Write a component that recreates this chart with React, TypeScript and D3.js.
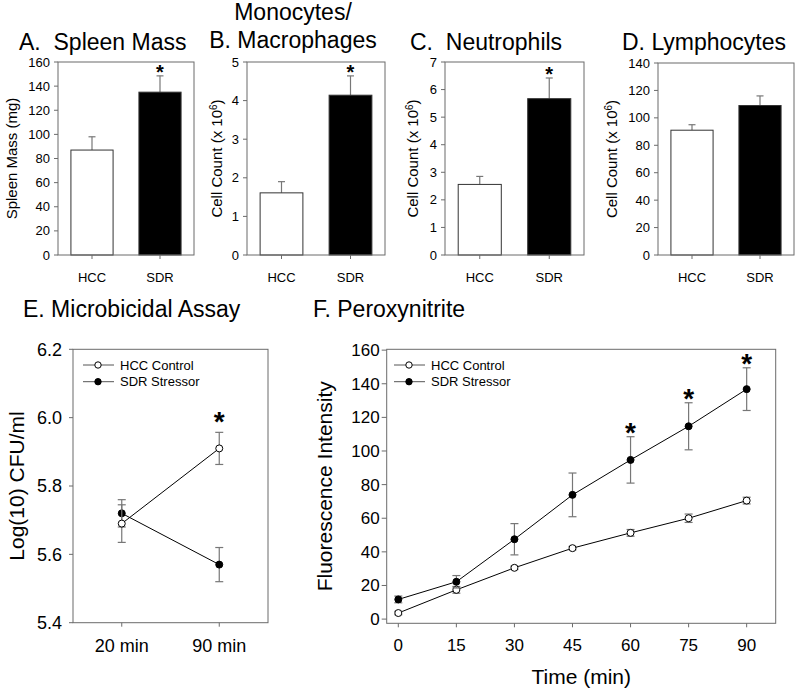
import React from "react";
import * as d3 from "d3";

// bar panels (A-D)
const groups = ["HCC", "SDR"];
const spleenMass = [87, 135];
const spleenErr = [11, 13.5];
const monocytes = [1.61, 4.14];
const monocyteErr = [0.29, 0.5];
const neutrophils = [2.56, 5.67];
const neutrophilErr = [0.29, 0.75];
const lymphocytes = [91, 109];
const lymphocyteErr = [4, 7];

// E. microbicidal assay
const assayTimes = ["20 min", "90 min"];
const hccCfu = [5.69, 5.91];
const hccCfuErr = [0.055, 0.047];
const sdrCfu = [5.72, 5.57];
const sdrCfuErr = [0.04, 0.05];
const cfuTicks = [5.4, 5.6, 5.8, 6.0, 6.2];

// F. peroxynitrite
const minutes = [0, 15, 30, 45, 60, 75, 90];
const hccFluor = [3.6, 17.4, 30.5, 42.2, 51.3, 60, 70.5];
const hccFluorErr = [1, 2, 1, 1, 2, 2.5, 2];
const sdrFluor = [11.7, 22.2, 47.5, 73.9, 94.7, 114.7, 136.8];
const sdrFluorErr = [2, 3.7, 9.3, 13, 13.8, 14, 12.7];
const fluorTicks = [0, 20, 40, 60, 80, 100, 120, 140, 160];
const sigMinutes = [60, 75, 90];

const FONT = "'Liberation Sans', Arial, sans-serif";
const FRAME = "#6b6b6b";
const ERR = "#777";

function BarPanel({ x0, x1, y0, y1, max, step, values, errs, sig, yLabel, labelX, sup }) {
  const x = d3.scalePoint().domain(groups).range([x0, x1]).padding(0.5);
  const y = d3.scaleLinear().domain([0, max]).range([y1, y0]);
  const bw = (x1 - x0) * 0.31;
  const ticks = d3.range(0, max + step / 2, step);
  const cy = (y0 + y1) / 2;
  return (
    <g>
      {groups.map((g, i) => (
        <g key={g}>
          <line x1={x(g)} x2={x(g)} y1={y(values[i] + errs[i])} y2={y(values[i])} stroke={ERR} strokeWidth={1.2} />
          <line x1={x(g) - 3.5} x2={x(g) + 3.5} y1={y(values[i] + errs[i])} y2={y(values[i] + errs[i])} stroke={ERR} strokeWidth={1.2} />
          <rect x={x(g) - bw / 2} y={y(values[i])} width={bw} height={y(0) - y(values[i])}
            fill={i === 0 ? "#fff" : "#000"} stroke="#333" strokeWidth={1} />
          {sig[i] && (
            <text x={x(g)} y={y(values[i] + errs[i]) + 3} textAnchor="middle" fontSize={20} fontWeight="bold" fontFamily={FONT}>*</text>
          )}
          <line x1={x(g)} x2={x(g)} y1={y1} y2={y1 + 4} stroke={FRAME} />
          <text x={x(g)} y={y1 + 27} textAnchor="middle" fontSize={13} fontFamily={FONT}>{g}</text>
        </g>
      ))}
      <rect x={x0} y={y0} width={x1 - x0} height={y1 - y0} fill="none" stroke={FRAME} strokeWidth={1} />
      {ticks.map((t) => (
        <g key={t}>
          <line x1={x0 - 4} x2={x0} y1={y(t)} y2={y(t)} stroke={FRAME} />
          <text x={x0 - 8} y={y(t)} dy="0.35em" textAnchor="end" fontSize={13} fontFamily={FONT}>{t}</text>
        </g>
      ))}
      <text transform={`translate(${labelX},${cy}) rotate(-90)`} dy="0.35em" textAnchor="middle" fontSize={15} fontFamily={FONT}>
        {yLabel}
        {sup && <tspan baselineShift="super" fontSize={10}>{sup}</tspan>}
        {sup && ")"}
      </text>
    </g>
  );
}

function Legend({ lx, ly }) {
  const rows = [
    { name: "HCC Control", fill: "#fff" },
    { name: "SDR Stressor", fill: "#000" },
  ];
  return (
    <g>
      {rows.map((r, i) => (
        <g key={r.name} transform={`translate(${lx},${ly + i * 16.7})`}>
          <line x1={0} x2={31} y1={0} y2={0} stroke="#555" />
          <circle cx={15} cy={0} r={3.2} fill={r.fill} stroke="#000" />
          <text x={37} y={0} dy="0.35em" fontSize={13} fontFamily={FONT}>{r.name}</text>
        </g>
      ))}
    </g>
  );
}

function AssayPanel() {
  const x0 = 73, x1 = 268, y0 = 349.3, y1 = 622.7;
  const x = d3.scalePoint().domain(assayTimes).range([x0, x1]).padding(0.5);
  const y = d3.scaleLinear().domain([5.4, 6.2]).range([y1, y0]);
  const line = d3.line<number>().x((_, i) => x(assayTimes[i])).y((v) => y(v));
  const series = [
    { vals: sdrCfu, errs: sdrCfuErr, fill: "#000" },
    { vals: hccCfu, errs: hccCfuErr, fill: "#fff" },
  ];
  return (
    <g>
      {series.map((s, k) => (
        <g key={k}>
          <path d={line(s.vals)} fill="none" stroke="#000" strokeWidth={1} />
          {s.vals.map((v, i) => {
            const px = x(assayTimes[i]);
            return (
              <g key={i}>
                <line x1={px} x2={px} y1={y(v - s.errs[i])} y2={y(v + s.errs[i])} stroke={ERR} strokeWidth={1.2} />
                <line x1={px - 4} x2={px + 4} y1={y(v - s.errs[i])} y2={y(v - s.errs[i])} stroke={ERR} strokeWidth={1.2} />
                <line x1={px - 4} x2={px + 4} y1={y(v + s.errs[i])} y2={y(v + s.errs[i])} stroke={ERR} strokeWidth={1.2} />
              </g>
            );
          })}
          {s.vals.map((v, i) => (
            <circle key={"c" + i} cx={x(assayTimes[i])} cy={y(v)} r={3.5} fill={s.fill} stroke="#000" />
          ))}
        </g>
      ))}
      <text x={x(assayTimes[1])} y={y(hccCfu[1] + hccCfuErr[1]) - 1} textAnchor="middle" fontSize={28} fontWeight="bold" fontFamily={FONT}>*</text>
      <rect x={x0} y={y0} width={x1 - x0} height={y1 - y0} fill="none" stroke={FRAME} />
      {cfuTicks.map((t) => (
        <g key={t}>
          <line x1={x0 - 4} x2={x0} y1={y(t)} y2={y(t)} stroke={FRAME} />
          <text x={x0 - 11} y={y(t)} dy="0.35em" textAnchor="end" fontSize={18} fontFamily={FONT}>{t.toFixed(1)}</text>
        </g>
      ))}
      {assayTimes.map((t) => (
        <g key={t}>
          <line x1={x(t)} x2={x(t)} y1={y1} y2={y1 + 4} stroke={FRAME} />
          <text x={x(t)} y={y1 + 29} textAnchor="middle" fontSize={18} fontFamily={FONT}>{t}</text>
        </g>
      ))}
      <text transform={`translate(17,${(y0 + y1) / 2}) rotate(-90)`} dy="0.35em" textAnchor="middle" fontSize={21} fontFamily={FONT}>Log(10) CFU/ml</text>
      <Legend lx={83} ly={365} />
      <text x={23} y={317} fontSize={23} fontFamily={FONT}>E. Microbicidal Assay</text>
    </g>
  );
}

function PeroxPanel() {
  const x0 = 386.7, x1 = 775.7, y0 = 349.3, y1 = 623.3;
  const x = d3.scaleLinear().domain([-3, 97.5]).range([x0, x1]);
  const y = d3.scaleLinear().domain([-2.5, 160.5]).range([y1, y0]);
  const line = d3.line<number>().x((_, i) => x(minutes[i])).y((v) => y(v));
  const series = [
    { vals: hccFluor, errs: hccFluorErr, fill: "#fff" },
    { vals: sdrFluor, errs: sdrFluorErr, fill: "#000" },
  ];
  return (
    <g>
      {series.map((s, k) => (
        <g key={k}>
          <path d={line(s.vals)} fill="none" stroke="#000" strokeWidth={1} />
          {s.vals.map((v, i) => {
            const px = x(minutes[i]);
            return (
              <g key={i}>
                <line x1={px} x2={px} y1={y(v - s.errs[i])} y2={y(v + s.errs[i])} stroke={ERR} strokeWidth={1.2} />
                <line x1={px - 4} x2={px + 4} y1={y(v - s.errs[i])} y2={y(v - s.errs[i])} stroke={ERR} strokeWidth={1.2} />
                <line x1={px - 4} x2={px + 4} y1={y(v + s.errs[i])} y2={y(v + s.errs[i])} stroke={ERR} strokeWidth={1.2} />
              </g>
            );
          })}
          {s.vals.map((v, i) => (
            <circle key={"c" + i} cx={x(minutes[i])} cy={y(v)} r={3.5} fill={s.fill} stroke="#000" />
          ))}
        </g>
      ))}
      {sigMinutes.map((m) => {
        const i = minutes.indexOf(m);
        return (
          <text key={m} x={x(m)} y={y(sdrFluor[i] + sdrFluorErr[i]) + 5} textAnchor="middle" fontSize={28} fontWeight="bold" fontFamily={FONT}>*</text>
        );
      })}
      <rect x={x0} y={y0} width={x1 - x0} height={y1 - y0} fill="none" stroke={FRAME} />
      {fluorTicks.map((t) => (
        <g key={t}>
          <line x1={x0 - 5} x2={x0} y1={y(t)} y2={y(t)} stroke={FRAME} />
          <text x={x0 - 7} y={y(t)} dy="0.35em" textAnchor="end" fontSize={17} fontFamily={FONT}>{t}</text>
        </g>
      ))}
      {minutes.map((t) => (
        <g key={t}>
          <line x1={x(t)} x2={x(t)} y1={y1} y2={y1 + 4} stroke={FRAME} />
          <text x={x(t)} y={y1 + 28} textAnchor="middle" fontSize={17} fontFamily={FONT}>{t}</text>
        </g>
      ))}
      <text x={(x0 + x1) / 2} y={684} textAnchor="middle" fontSize={21} fontFamily={FONT}>Time (min)</text>
      <text transform={`translate(325,${(y0 + y1) / 2}) rotate(-90)`} dy="0.35em" textAnchor="middle" fontSize={21} fontFamily={FONT}>Fluorescence Intensity</text>
      <Legend lx={394} ly={365} />
      <text x={313} y={317} fontSize={23} fontFamily={FONT}>F. Peroxynitrite</text>
    </g>
  );
}

export default function App() {
  const title = { fontSize: 23, fontFamily: FONT, style: { whiteSpace: "pre" } };
  return (
    <svg width={800} height={694} style={{ position: "absolute", left: 0, top: 0, background: "#fff" }}>
      <rect width={800} height={694} fill="#fff" />
      <text x={19} y={50} {...title}>A.  Spleen Mass</text>
      <text x={293} y={20} textAnchor="middle" {...title}>Monocytes/</text>
      <text x={293} y={48} textAnchor="middle" {...title}>B. Macrophages</text>
      <text x={410} y={50} {...title}>C.  Neutrophils</text>
      <text x={622} y={50} {...title}>D. Lymphocytes</text>
      <BarPanel x0={58} x1={194} y0={62} y1={255} max={160} step={20} values={spleenMass} errs={spleenErr}
        sig={[false, true]} yLabel="Spleen Mass (mg)" labelX={12} sup={null} />
      <BarPanel x0={247} x1={385} y0={62} y1={255} max={5} step={1} values={monocytes} errs={monocyteErr}
        sig={[false, true]} yLabel="Cell Count (x 10" labelX={217} sup="6" />
      <BarPanel x0={445} x1={584} y0={62} y1={255} max={7} step={1} values={neutrophils} errs={neutrophilErr}
        sig={[false, true]} yLabel="Cell Count (x 10" labelX={413} sup="6" />
      <BarPanel x0={658} x1={794} y0={63} y1={255} max={140} step={20} values={lymphocytes} errs={lymphocyteErr}
        sig={[false, false]} yLabel="Cell Count (x 10" labelX={612} sup="6" />
      <AssayPanel />
      <PeroxPanel />
    </svg>
  );
}
